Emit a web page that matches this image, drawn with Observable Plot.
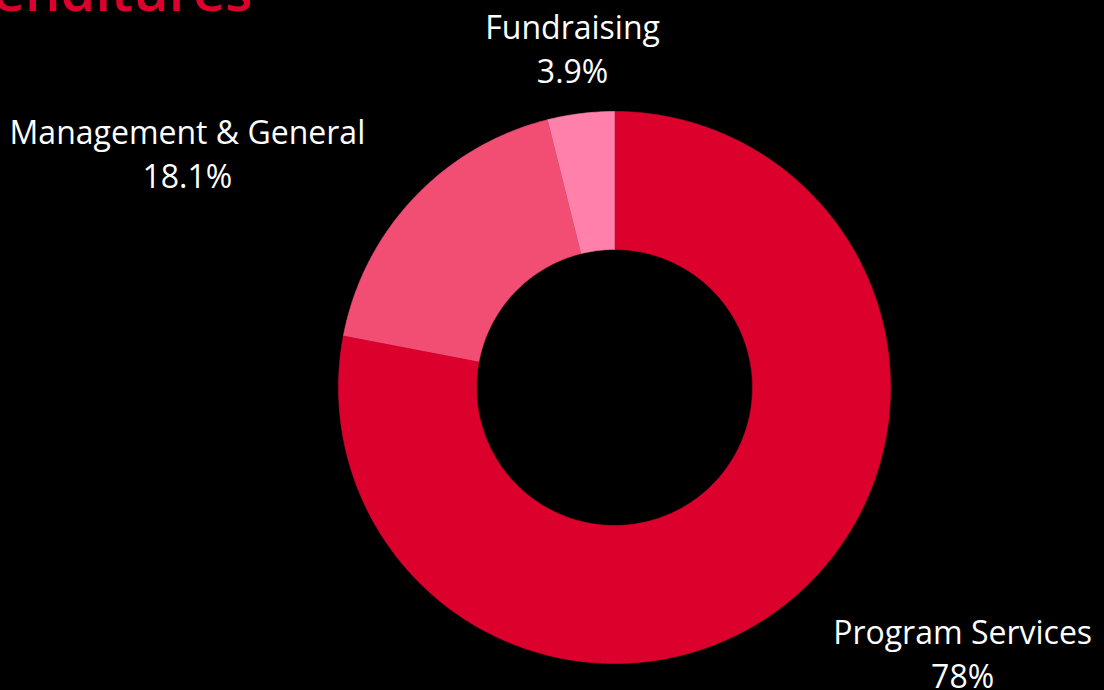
<!DOCTYPE html>
<html><head><meta charset="utf-8">
<script src="https://cdn.jsdelivr.net/npm/d3@7"></script>
<script src="https://cdn.jsdelivr.net/npm/@observablehq/plot@0.6"></script>
<style>html,body{margin:0;padding:0;background:#000;overflow:hidden}</style>
</head><body><div id="chart"></div>
<script>
const title = "Expenditures";
const categories = ["Program Services", "Management & General", "Fundraising"];
const values = [78, 18.1, 3.9];
const valueLabels = ["78%", "18.1%", "3.9%"];
const colors = ["#DC002D", "#F24E74", "#FF80AA"];

const W = 1104, H = 690;
const CX = 614, CY = 387, U = 276;      // centre and outer radius (px)
const INNER = 0.5, LABEL_R = 343 / U;
const FONT = "'Open Sans', sans-serif", FS = 32;

const rows = categories.map((name, i) => ({name, value: values[i], label: `${name}\n${valueLabels[i]}`}));
const arcs = d3.pie().sort(null).value(d => d.value)(rows);

// polygon points for each slice in data units
const poly = [];
for (const a of arcs) {
  const n = Math.max(8, Math.ceil((a.endAngle - a.startAngle) / 0.01));
  const pts = [];
  for (let k = 0; k <= n; k++) {
    const t = a.startAngle + (a.endAngle - a.startAngle) * k / n;
    pts.push([Math.sin(t), Math.cos(t)]);
  }
  for (let k = n; k >= 0; k--) {
    const t = a.startAngle + (a.endAngle - a.startAngle) * k / n;
    pts.push([INNER * Math.sin(t), INNER * Math.cos(t)]);
  }
  pts.forEach(([x, y], j) => poly.push({name: a.data.name, x, y, j}));
}

// label positions
const ctx = document.createElement("canvas").getContext("2d");
ctx.font = `${FS}px ${FONT}`;
const labels = arcs.map(a => {
  const m = (a.startAngle + a.endAngle) / 2;
  const s = Math.sin(m), c = Math.cos(m);
  const w = d3.max(a.data.label.split("\n"), t => ctx.measureText(t).width) / U;
  const px = s * LABEL_R, py = c * LABEL_R;
  const cx = Math.abs(s) < 0.3 ? px : px + Math.sign(s) * w / 2;
  return {label: a.data.label, x: cx, y: py};
});

const chart = Plot.plot({
  width: W, height: H,
  margin: 0,
  style: {background: "#000", fontFamily: FONT},
  x: {domain: [-CX / U, (W - CX) / U], axis: null},
  y: {domain: [-(H - CY) / U, CY / U], axis: null},
  color: {domain: categories, range: colors},
  marks: [
    Plot.line(poly, {x: "x", y: "y", z: "name", fill: "name", stroke: "name", strokeWidth: 0.6, curve: "linear"}),
    Plot.text(labels, {x: "x", y: "y", text: "label", fill: "#fff", fontSize: FS, textAnchor: "middle", lineAnchor: "middle", lineHeight: 1.38}),
    Plot.text([title], {frameAnchor: "top-left", textAnchor: "end", lineAnchor: "bottom", dx: 252, dy: 10, fill: "#DC002D", fontSize: 56, fontWeight: 600})
  ]
});
document.getElementById("chart").append(chart);
</script>
</body></html>
